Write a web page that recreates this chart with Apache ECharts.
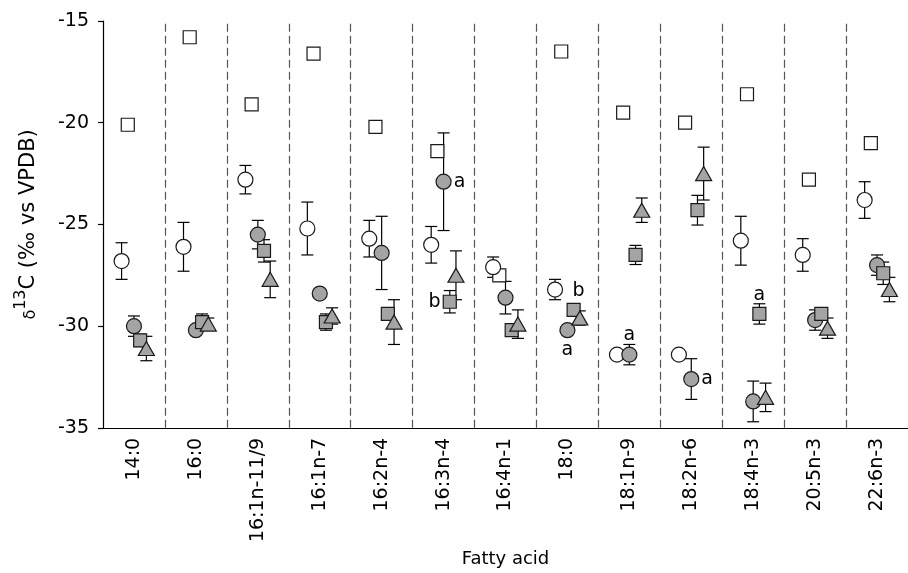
<!DOCTYPE html>
<html>
<head>
<meta charset="utf-8">
<script src="https://cdn.jsdelivr.net/npm/echarts@6/dist/echarts.min.js"></script>
<style>
  html, body { margin: 0; padding: 0; background: #fff; }
  #chart { width: 908px; height: 573px; }
</style>
</head>
<body>
<div id="chart"></div>
<script>
const fattyAcids = ['14:0', '16:0', '16:1n-11/9', '16:1n-7', '16:2n-4', '16:3n-4', '16:4n-1',
  '18:0', '18:1n-9', '18:2n-6', '18:4n-3', '20:5n-3', '22:6n-3']

const yTicks = [-35, -30, -25, -20, -15]

// means and error bar half-widths, one entry per fatty acid
const openSquare = [-20.1, -15.8, -19.1, -16.6, -20.2, -21.4, -27.5, -16.5, -19.5, -20.0, -18.6, -22.8, -21.0]
const openSquareErr = [0, 0, 0, 0, 0, 0, 0, 0, 0, 0, 0, 0, 0]

const openCircle = [-26.8, -26.1, -22.8, -25.2, -25.7, -26.0, -27.1, -28.2, -31.4, -31.4, -25.8, -26.5, -23.8]
const openCircleErr = [0.9, 1.2, 0.7, 1.3, 0.9, 0.9, 0.5, 0.5, 0, 0, 1.2, 0.8, 0.9]

const greyCircle = [-30.0, -30.2, -25.5, -28.4, -26.4, -22.9, -28.6, -30.2, -31.4, -32.6, -33.7, -29.7, -27.0]
const greyCircleErr = [0.5, 0, 0.7, 0, 1.8, 2.4, 0.8, 0, 0.5, 1.0, 1.0, 0.5, 0.5]

const greySquare = [-30.7, -29.8, -26.3, -29.8, -29.4, -28.8, -30.2, -29.2, -26.5, -24.3, -29.4, -29.4, -27.4]
const greySquareErr = [0.3, 0.4, 0.55, 0.4, 0.3, 0.55, 0.3, 0.3, 0.47, 0.73, 0.5, 0.3, 0.55]

const greyTriangle = [-31.1, -29.9, -27.7, -29.5, -29.8, -27.5, -29.9, -29.6, -24.3, -22.5, -33.5, -30.1, -28.2]
const greyTriangleErr = [0.6, 0.3, 0.9, 0.4, 1.1, 1.2, 0.7, 0.35, 0.6, 1.3, 0.7, 0.5, 0.6]

// significance letters: [series, fatty acid index, letter, side]
const letters = [
  ['greyCircle', 5, 'a', 'right'],
  ['greySquare', 5, 'b', 'left'],
  ['greyCircle', 7, 'a', 'bottom'],
  ['greySquare', 7, 'b', 'top'],
  ['greyCircle', 8, 'a', 'top'],
  ['greyCircle', 9, 'a', 'right'],
  ['greySquare', 10, 'a', 'top']
]

const FONT = 'DejaVu Sans, sans-serif'
const GREY = '#a4a4a4'
const EDGE = '#1a1a1a'

const groups = [
  { key: 'openSquare', values: openSquare, err: openSquareErr, offset: -0.1, symbol: 'rect', size: 13, fill: '#fff' },
  { key: 'openCircle', values: openCircle, err: openCircleErr, offset: -0.2, symbol: 'circle', size: 15, fill: '#fff' },
  { key: 'greyCircle', values: greyCircle, err: greyCircleErr, offset: 0, symbol: 'circle', size: 15, fill: GREY },
  { key: 'greySquare', values: greySquare, err: greySquareErr, offset: 0.1, symbol: 'rect', size: 13, fill: GREY },
  { key: 'greyTriangle', values: greyTriangle, err: greyTriangleErr, offset: 0.2, symbol: 'triangle', size: [16, 14], fill: GREY }
]

// dashed separators between neighbouring fatty acids
const separators = fattyAcids.slice(1).map((_, i) => ({ xAxis: i + 0.5 }))

function errorBars(g) {
  return {
    type: 'custom',
    xAxisIndex: 1,
    z: 1,
    silent: true,
    data: g.values.map((v, i) => [i + g.offset, v - g.err[i], v + g.err[i]]),
    renderItem(params, api) {
      if (api.value(2) - api.value(1) <= 0) return null
      const lo = api.coord([api.value(0), api.value(1)])
      const hi = api.coord([api.value(0), api.value(2)])
      const w = 6
      const style = { stroke: '#000', lineWidth: 1.2 }
      return {
        type: 'group',
        children: [
          { type: 'line', shape: { x1: lo[0], y1: lo[1], x2: hi[0], y2: hi[1] }, style },
          { type: 'line', shape: { x1: lo[0] - w, y1: lo[1], x2: lo[0] + w, y2: lo[1] }, style },
          { type: 'line', shape: { x1: hi[0] - w, y1: hi[1], x2: hi[0] + w, y2: hi[1] }, style }
        ]
      }
    }
  }
}

function points(g, k) {
  const s = {
    name: g.key,
    type: 'scatter',
    xAxisIndex: 1,
    z: 3,
    symbol: g.symbol,
    symbolSize: g.size,
    itemStyle: { color: g.fill, borderColor: EDGE, borderWidth: 1.2, opacity: 1 },
    data: g.values.map((v, i) => {
      const item = { value: [i + g.offset, v] }
      const lt = letters.find(l => l[0] === g.key && l[1] === i)
      if (lt) {
        item.label = {
          show: true,
          formatter: lt[2],
          position: lt[3],
          distance: 2,
          offset: lt[3] === 'top' && g.key === 'greySquare' && i === 7 ? [5, 0] : [0, 0],
          color: '#000',
          fontSize: 19,
          fontFamily: FONT
        }
      }
      return item
    })
  }
  if (k === 0) {
    s.markLine = {
      silent: true,
      symbol: 'none',
      z: 0,
      label: { show: false },
      lineStyle: { color: '#555', type: [8, 4], width: 1.2 },
      data: separators
    }
  }
  return s
}

const chart = echarts.init(document.getElementById('chart'))
chart.setOption({
  backgroundColor: '#fff',
  animation: false,
  grid: { left: 103, right: 0, top: 21, bottom: 144 },
  xAxis: [{
    type: 'category',
    data: fattyAcids,
    boundaryGap: true,
    axisLine: { lineStyle: { color: '#000', width: 1.2 } },
    axisTick: { alignWithLabel: true, length: 6, lineStyle: { color: '#000', width: 1.2 } },
    axisLabel: { rotate: 90, margin: 10, color: '#000', fontSize: 19, fontFamily: FONT, interval: 0 },
    splitLine: { show: false },
    name: 'Fatty acid',
    nameLocation: 'middle',
    nameGap: 112,
    nameTextStyle: { color: '#000', fontSize: 18, fontFamily: FONT }
  }, {
    type: 'value',
    min: -0.5,
    max: fattyAcids.length - 0.5,
    show: false
  }],
  yAxis: {
    type: 'value',
    min: yTicks[0],
    max: yTicks[yTicks.length - 1],
    interval: 5,
    axisLine: { show: true, onZero: false, lineStyle: { color: '#000', width: 1.2 } },
    axisTick: { show: true, length: 5, lineStyle: { color: '#000', width: 1.2 } },
    axisLabel: { margin: 14, color: '#000', fontSize: 19, fontFamily: FONT },
    splitLine: { show: false },
    name: '{d|δ}{s|13}{n|C (‰ vs VPDB)}',
    nameLocation: 'middle',
    nameGap: 64,
    nameTextStyle: {
      color: '#000',
      fontFamily: FONT,
      rich: {
        d: { fontSize: 16, fontFamily: FONT, lineHeight: 26, verticalAlign: 'bottom' },
        s: { fontSize: 16, fontFamily: FONT, lineHeight: 26, verticalAlign: 'top' },
        n: { fontSize: 21, fontFamily: FONT, lineHeight: 26, verticalAlign: 'bottom' }
      }
    }
  },
  series: groups.map(errorBars).concat(groups.map(points))
})
</script>
</body>
</html>
